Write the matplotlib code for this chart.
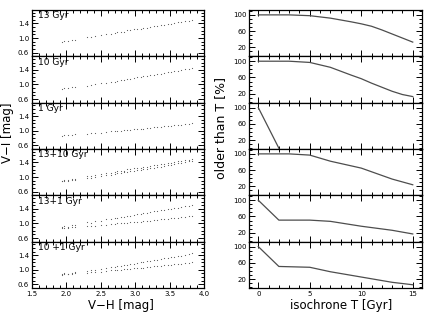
import matplotlib
matplotlib.use("Agg")
import matplotlib.pyplot as plt
from matplotlib.ticker import MultipleLocator

# colour sequences (V-H, V-I)
vh = [1.93, 1.97, 2.02, 2.08, 2.13, 2.30, 2.36, 2.42, 2.50, 2.58, 2.65, 2.70,
      2.74, 2.79, 2.84, 2.88, 2.93, 2.98, 3.03, 3.08, 3.12, 3.17, 3.22, 3.27,
      3.32, 3.37, 3.42, 3.47, 3.52, 3.57, 3.62, 3.67, 3.72, 3.78, 3.83]
vi_13 = [0.90, 0.93, 0.91, 0.95, 0.96, 1.03, 1.02, 1.07, 1.08, 1.12, 1.12, 1.15,
         1.16, 1.18, 1.18, 1.21, 1.21, 1.24, 1.25, 1.26, 1.29, 1.28, 1.31, 1.33,
         1.33, 1.36, 1.36, 1.39, 1.39, 1.42, 1.43, 1.44, 1.47, 1.47, 1.50]
vi_10 = [0.88, 0.90, 0.89, 0.92, 0.93, 0.97, 0.98, 1.00, 1.03, 1.05, 1.07, 1.08,
         1.10, 1.11, 1.13, 1.14, 1.16, 1.17, 1.19, 1.20, 1.22, 1.23, 1.25, 1.26,
         1.28, 1.29, 1.31, 1.33, 1.34, 1.36, 1.38, 1.39, 1.41, 1.43, 1.45]
vi_1 = [0.87, 0.88, 0.88, 0.89, 0.90, 0.92, 0.93, 0.94, 0.95, 0.96, 0.98, 0.99,
        1.00, 1.00, 1.01, 1.02, 1.03, 1.04, 1.05, 1.05, 1.06, 1.07, 1.08, 1.09,
        1.10, 1.11, 1.12, 1.13, 1.14, 1.15, 1.16, 1.17, 1.18, 1.19, 1.20]

labels = ["13 Gyr", "10 Gyr", "1 Gyr", "13+10 Gyr", "13+1 Gyr", "10 +1 Gyr"]
left_series = [[vi_13], [vi_10], [vi_1], [vi_13, vi_10], [vi_13, vi_1], [vi_10, vi_1]]

# fraction older than T (right panels)
t_13 = [0, 3, 5, 7, 9, 10, 11, 12, 13, 14, 15]
p_13 = [100, 100, 98, 92, 83, 78, 72, 63, 53, 43, 33]
t_10 = [0, 3, 5, 7, 9, 10, 11, 12, 13, 14, 15]
p_10 = [100, 100, 97, 85, 66, 57, 46, 36, 26, 18, 13]
t_1 = [0, 2]
p_1 = [100, 0]
t_13_10 = [0, 3, 5, 7, 10, 13, 15]
p_13_10 = [100, 100, 97, 82, 65, 38, 24]
t_13_1 = [0, 2, 5, 7, 10, 13, 15]
p_13_1 = [100, 51, 51, 48, 36, 26, 17]
t_10_1 = [0, 2, 5, 7, 10, 13, 15]
p_10_1 = [100, 51, 49, 38, 25, 12, 6]
right_series = [(t_13, p_13), (t_10, p_10), (t_1, p_1),
                (t_13_10, p_13_10), (t_13_1, p_13_1), (t_10_1, p_10_1)]


def style(ax):
    ax.tick_params(which="both", direction="in", top=True, right=True,
                   labelsize=5, width=0.7, pad=2)
    ax.tick_params(which="major", length=4)
    ax.tick_params(which="minor", length=2)
    for s in ax.spines.values():
        s.set_linewidth(0.9)


def main():
    fig = plt.figure(figsize=(4.36, 3.12), dpi=100)
    top = 1 - 10 / 312
    h = (278 / 6) / 312
    for i in range(6):
        y0 = top - (i + 1) * h
        axl = fig.add_axes([32 / 436, y0, 172 / 436, h])
        for vis in left_series[i]:
            axl.scatter(vh, vis, s=0.7, color="0.35", linewidths=0)
        axl.set_xlim(1.5, 4.0)
        axl.set_ylim(0.5, 1.77)
        axl.set_yticks([0.6, 1.0, 1.4])
        axl.xaxis.set_major_locator(MultipleLocator(0.5))
        axl.xaxis.set_minor_locator(MultipleLocator(0.1))
        axl.yaxis.set_minor_locator(MultipleLocator(0.1))
        axl.text(0.035, 0.97, labels[i], transform=axl.transAxes,
                 ha="left", va="top", fontsize=6.5)
        style(axl)

        axr = fig.add_axes([249 / 436, y0, 173 / 436, h])
        t, p = right_series[i]
        axr.plot(t, p, color="0.3", linewidth=0.9)
        axr.set_xlim(-0.9, 15.9)
        axr.set_ylim(-2, 112)
        axr.set_yticks([20, 60, 100])
        axr.xaxis.set_major_locator(MultipleLocator(5))
        axr.xaxis.set_minor_locator(MultipleLocator(1))
        axr.yaxis.set_minor_locator(MultipleLocator(10))
        style(axr)

        if i < 5:
            axl.tick_params(labelbottom=False)
            axr.tick_params(labelbottom=False)

    fig.text(8 / 436, 1 - 133 / 312, "V\u2212I [mag]", rotation=90,
             ha="center", va="center", fontsize=8.5)
    fig.text(121 / 436, 1 - 305 / 312, "V\u2212H [mag]",
             ha="center", va="center", fontsize=8.5)
    fig.text(221 / 436, 1 - 128 / 312, "older than T [%]", rotation=90,
             ha="center", va="center", fontsize=9)
    fig.text(341 / 436, 1 - 305 / 312, "isochrone T [Gyr]",
             ha="center", va="center", fontsize=8.5)

    fig.savefig("out.png", dpi=100)


if __name__ == "__main__":
    main()
